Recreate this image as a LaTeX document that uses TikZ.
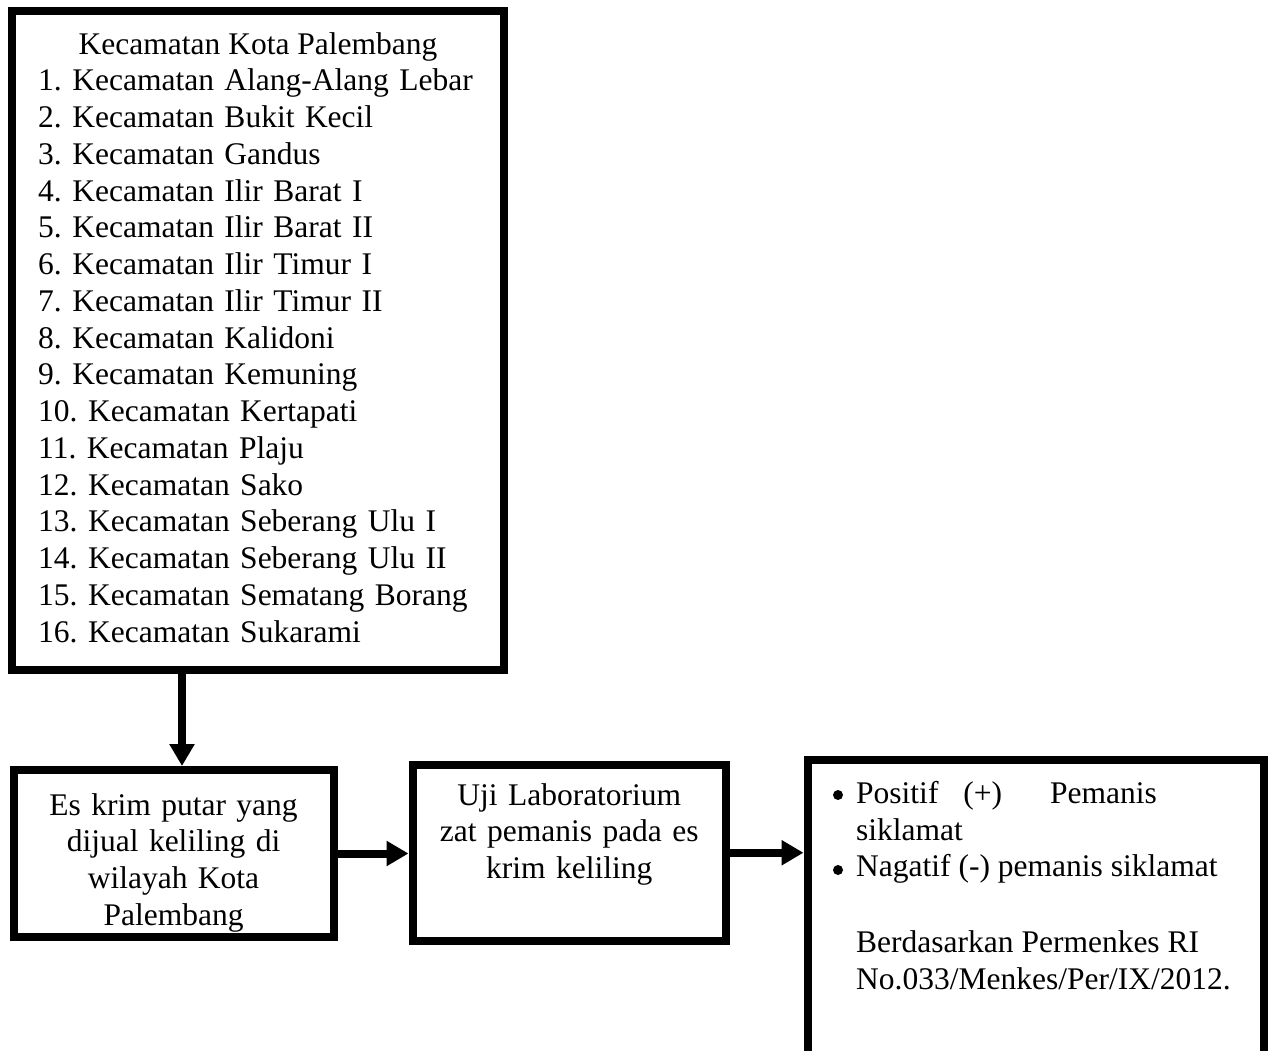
\documentclass[tikz,border=0pt]{standalone}
\usepackage{fontspec}
\setmainfont{Liberation Serif}
\usetikzlibrary{arrows.meta}
\frenchspacing
\begin{document}
\begin{tikzpicture}[x=1pt,y=-1pt,
  box/.style={draw=black, line width=8pt, inner sep=0pt, fill=white},
  txt/.style={inner sep=0pt, font=\fontsize{31.5}{36.75}\selectfont\frenchspacing},
  dot/.style={circle, fill=black, inner sep=0pt, minimum size=10pt},
  arr/.style={draw=black, line width=8pt, -{Triangle[width=24pt,length=22pt]}}]
\clip (0,0) rectangle (1271,1051);
\fill[white] (0,0) rectangle (1271,1051);
% boxes
\node[box, minimum width=492pt, minimum height=659pt] (top) at (258,340.5) {};
\node[box, minimum width=320pt, minimum height=167pt] (b2) at (173.5,853.5) {};
\node[box, minimum width=313.5pt, minimum height=175.5pt] (b3) at (569.25,852.75) {};
\node[box, minimum width=456.5pt, minimum height=310.5pt] (b4) at (1035.75,914.75) {};
% top box text
\node[txt, anchor=base] (title) at (258,55) {Kecamatan Kota Palembang};
\node[txt, anchor=base west, text width=460pt, align=left] (list) at (38,91) {%
1. Kecamatan Alang-Alang Lebar\\
2. Kecamatan Bukit Kecil\\
3. Kecamatan Gandus\\
4. Kecamatan Ilir Barat I\\
5. Kecamatan Ilir Barat II\\
6. Kecamatan Ilir Timur I\\
7. Kecamatan Ilir Timur II\\
8. Kecamatan Kalidoni\\
9. Kecamatan Kemuning\\
10. Kecamatan Kertapati\\
11. Kecamatan Plaju\\
12. Kecamatan Sako\\
13. Kecamatan Seberang Ulu I\\
14. Kecamatan Seberang Ulu II\\
15. Kecamatan Sematang Borang\\
16. Kecamatan Sukarami};
% box 2 text
\node[txt, anchor=base, text width=300pt, align=center] (t2) at (173.5,815) {%
Es krim putar yang\\ dijual keliling di\\ wilayah Kota\\ Palembang};
% box 3 text
\node[txt, anchor=base, text width=300pt, align=center] (t3) at (569.25,805) {%
Uji Laboratorium\\ zat pemanis pada es\\ krim keliling};
% box 4 text
\node[dot] (bul1) at (838,795) {};
\node[txt, anchor=base west] (p1) at (856,803) {Positif\hspace*{25pt}(+)\hspace*{48pt}Pemanis};
\node[txt, anchor=base west] (p2) at (856,840) {siklamat};
\node[dot] (bul2) at (838,870) {};
\node[txt, anchor=base west] (p3) at (856,876) {Nagatif (-) pemanis siklamat};
\node[txt, anchor=base west] (p4) at (856,952) {Berdasarkan Permenkes RI};
\node[txt, anchor=base west] (p5) at (856,989) {No.033/Menkes/Per/IX/2012.};
% arrows
\coordinate (ax) at (182,0);
\draw[arr] (top.south -| ax) -- (b2.north -| ax);
\draw[arr] (b2.east) -- (b2.east -| b3.west);
\draw[arr] (b3.east) -- (b3.east -| b4.west);
\end{tikzpicture}
\end{document}
